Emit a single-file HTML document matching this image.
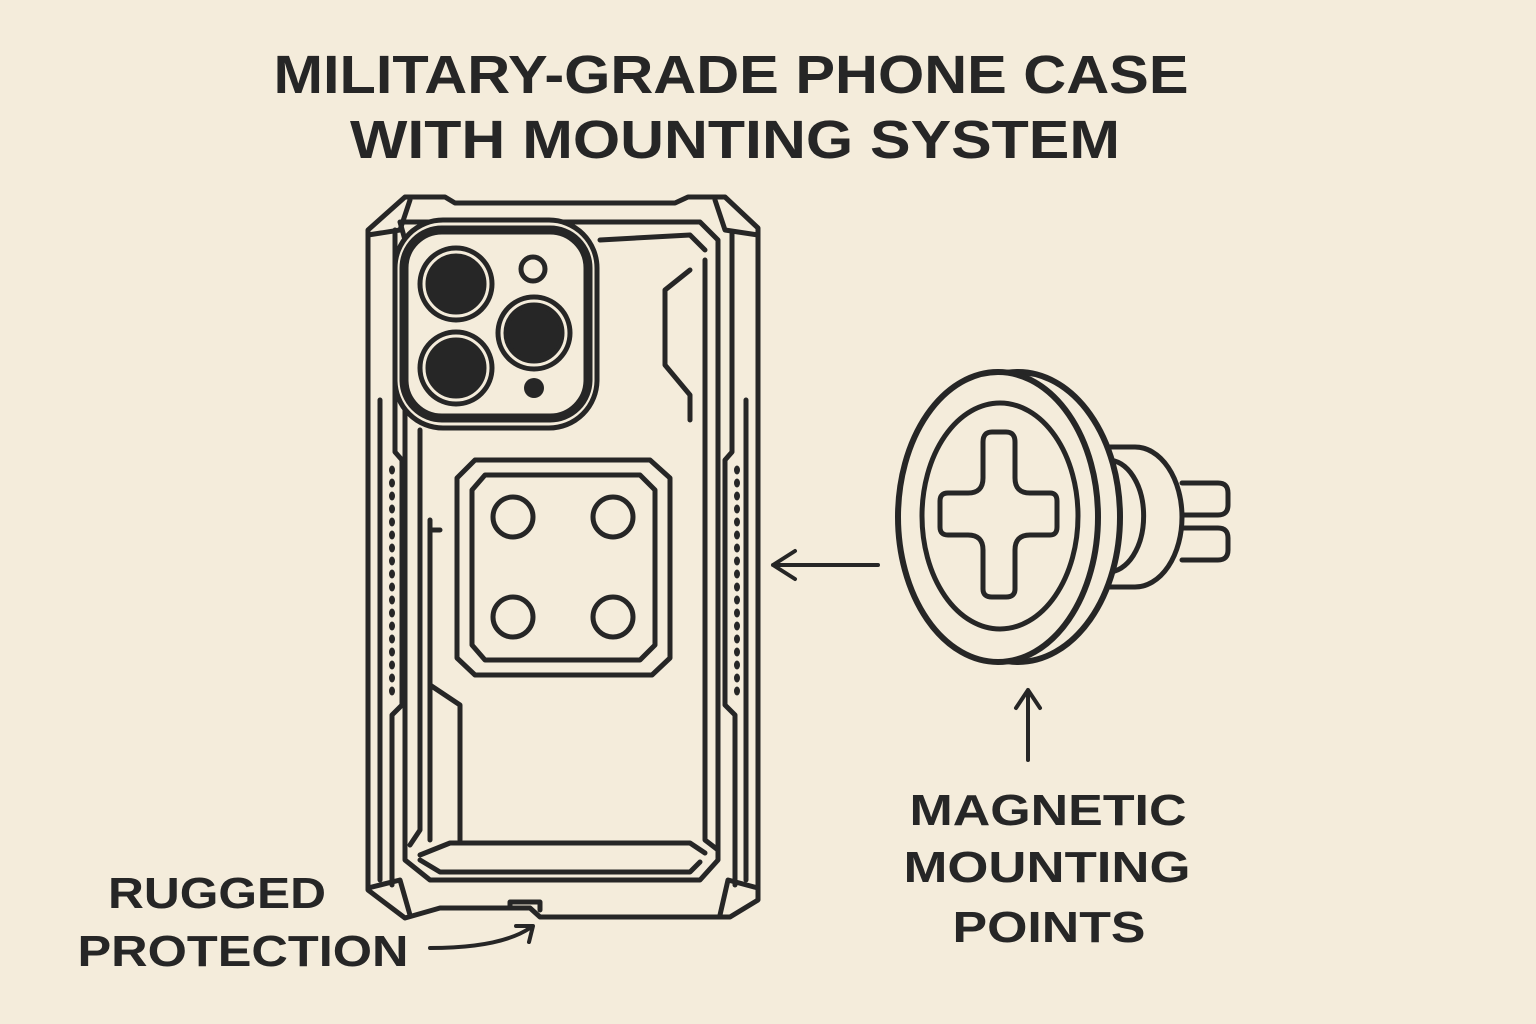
<!DOCTYPE html>
<html><head><meta charset="utf-8"><style>
html,body{margin:0;padding:0;background:#f4ecdb;}
svg{display:block}
text{font-family:"Liberation Sans",sans-serif;font-weight:bold;fill:#262626}
</style></head><body>
<svg width="1536" height="1024" viewBox="0 0 1536 1024" xmlns="http://www.w3.org/2000/svg">
<rect width="1536" height="1024" fill="#f4ecdb"/>
<text x="731" y="93" font-size="54" text-anchor="middle" textLength="915" lengthAdjust="spacingAndGlyphs">MILITARY-GRADE PHONE CASE</text>
<text x="735" y="158" font-size="54" text-anchor="middle" textLength="770" lengthAdjust="spacingAndGlyphs">WITH MOUNTING SYSTEM</text>

<g fill="none" stroke="#262626" stroke-width="5" stroke-linejoin="round" stroke-linecap="round">
<!-- outer shell -->
<path d="M405 197 L445 197 L455 203 L675 203 L688 197 L725 197 L758 228 L758 900 L730 917 L540 917 L530 908 L440 908 L405 918 L368 890 L368 230 Z"/>
<path d="M368 235 L400 230 L410 200 M758 235 L725 230 L715 200 M368 888 L400 880 L410 915 M758 888 L728 880 L720 915"/>
<path d="M380 400 L380 880 M746 400 L746 880"/>
<path d="M395 230 L395 452 L402 460 L402 705 L392 715 L392 885"/>
<path d="M732 232 L732 452 L725 460 L725 705 L735 715 L735 885"/>
<!-- inner frame -->
<path d="M400 222 L700 222 L718 240 L718 860 L700 880 L430 880 L405 860 L405 240 Z"/>
<path d="M600 240 L690 235 L705 250 M420 430 L420 830 L410 845 M705 260 L705 840 L718 850"/>
<path d="M420 860 L440 872 L690 872 L700 862"/>
<path d="M430 520 L430 840 M430 530 L440 530"/>
<path d="M665 290 L665 365 L690 395 L690 420 M665 290 L690 270"/>
<path d="M430 685 L460 705 L460 840"/>
<path d="M420 855 L450 843 L690 843 L705 853"/>
<g fill="#262626" stroke="none">
<ellipse cx="392" cy="470" rx="3" ry="4.5"/><ellipse cx="392" cy="483" rx="3" ry="4.5"/><ellipse cx="392" cy="496" rx="3" ry="4.5"/><ellipse cx="392" cy="509" rx="3" ry="4.5"/><ellipse cx="392" cy="522" rx="3" ry="4.5"/><ellipse cx="392" cy="535" rx="3" ry="4.5"/><ellipse cx="392" cy="548" rx="3" ry="4.5"/><ellipse cx="392" cy="561" rx="3" ry="4.5"/><ellipse cx="392" cy="574" rx="3" ry="4.5"/><ellipse cx="392" cy="587" rx="3" ry="4.5"/><ellipse cx="392" cy="600" rx="3" ry="4.5"/><ellipse cx="392" cy="613" rx="3" ry="4.5"/><ellipse cx="392" cy="626" rx="3" ry="4.5"/><ellipse cx="392" cy="639" rx="3" ry="4.5"/><ellipse cx="392" cy="652" rx="3" ry="4.5"/><ellipse cx="392" cy="665" rx="3" ry="4.5"/><ellipse cx="392" cy="678" rx="3" ry="4.5"/><ellipse cx="392" cy="691" rx="3" ry="4.5"/>
<ellipse cx="737" cy="470" rx="3" ry="4.5"/><ellipse cx="737" cy="483" rx="3" ry="4.5"/><ellipse cx="737" cy="496" rx="3" ry="4.5"/><ellipse cx="737" cy="509" rx="3" ry="4.5"/><ellipse cx="737" cy="522" rx="3" ry="4.5"/><ellipse cx="737" cy="535" rx="3" ry="4.5"/><ellipse cx="737" cy="548" rx="3" ry="4.5"/><ellipse cx="737" cy="561" rx="3" ry="4.5"/><ellipse cx="737" cy="574" rx="3" ry="4.5"/><ellipse cx="737" cy="587" rx="3" ry="4.5"/><ellipse cx="737" cy="600" rx="3" ry="4.5"/><ellipse cx="737" cy="613" rx="3" ry="4.5"/><ellipse cx="737" cy="626" rx="3" ry="4.5"/><ellipse cx="737" cy="639" rx="3" ry="4.5"/><ellipse cx="737" cy="652" rx="3" ry="4.5"/><ellipse cx="737" cy="665" rx="3" ry="4.5"/><ellipse cx="737" cy="678" rx="3" ry="4.5"/><ellipse cx="737" cy="691" rx="3" ry="4.5"/>
</g>
<!-- camera -->
<rect x="395" y="220" width="202" height="208" rx="48" fill="#f4ecdb"/>
<rect x="404" y="230" width="184" height="188" rx="38" stroke-width="9"/>
<circle cx="456" cy="284" r="36"/><circle cx="456" cy="284" r="28" fill="#262626"/>
<circle cx="456" cy="368" r="36"/><circle cx="456" cy="368" r="28" fill="#262626"/>
<circle cx="534" cy="333" r="36"/><circle cx="534" cy="333" r="28" fill="#262626"/>
<circle cx="533" cy="269" r="12"/>
<circle cx="534" cy="388" r="10" fill="#262626" stroke="none"/>
<!-- mount plate -->
<path d="M475 460 L650 460 L670 478 L670 658 L652 675 L475 675 L457 658 L457 478 Z"/>
<path d="M485 475 L640 475 L655 490 L655 645 L640 660 L485 660 L472 645 L472 490 Z"/>
<circle cx="513" cy="517" r="20"/><circle cx="613" cy="517" r="20"/>
<circle cx="513" cy="617" r="20"/><circle cx="613" cy="617" r="20"/>
<path d="M510 908 L510 902 L540 902 L540 910"/>
<!-- magnet knob -->
<path d="M1105 447 L1135 447 A 47 70 0 0 1 1135 587 L1105 587"/>
<path d="M1108 460 A 35 55 0 0 1 1108 572"/>
<path d="M1182 483 L1218 483 Q1228 483 1228 493 L1228 505 Q1228 515 1218 515 L1182 515 M1182 528 L1218 528 Q1228 528 1228 538 L1228 550 Q1228 560 1218 560 L1182 560"/>
<!-- magnet disk -->
<ellipse cx="1018" cy="517" rx="102" ry="145" fill="#f4ecdb" stroke-width="6"/>
<ellipse cx="998" cy="517" rx="100" ry="145" fill="#f4ecdb" stroke-width="6"/>
<ellipse cx="1000" cy="516" rx="78" ry="113"/>
<path d="M992 432 L1006 432 Q1015 432 1015 442 L1015 478 Q1015 493 1030 493 L1050 493 Q1057 493 1057 501 L1057 527 Q1057 535 1050 535 L1030 535 Q1015 535 1015 550 L1015 589 Q1015 597 1006 597 L992 597 Q983 597 983 589 L983 550 Q983 535 968 535 L948 535 Q940 535 940 527 L940 501 Q940 493 948 493 L968 493 Q983 493 983 478 L983 442 Q983 432 992 432 Z"/>
<!-- arrows -->
<path d="M878 565 L773 565 M795 551 L773 565 L795 579" stroke-width="4"/>
<path d="M1028 760 L1028 690 M1016 708 L1028 690 L1040 708" stroke-width="4"/>
<path d="M430 948 Q500 948 530 928 M516 926 L533 926 L529 942" stroke-width="4"/>
</g>

<text x="217" y="908" font-size="44" text-anchor="middle" textLength="218" lengthAdjust="spacingAndGlyphs">RUGGED</text>
<text x="243" y="966" font-size="44" text-anchor="middle" textLength="331" lengthAdjust="spacingAndGlyphs">PROTECTION</text>
<text x="1048" y="825" font-size="44" text-anchor="middle" textLength="277" lengthAdjust="spacingAndGlyphs">MAGNETIC</text>
<text x="1047" y="882" font-size="44" text-anchor="middle" textLength="287" lengthAdjust="spacingAndGlyphs">MOUNTING</text>
<text x="1049" y="942" font-size="44" text-anchor="middle" textLength="193" lengthAdjust="spacingAndGlyphs">POINTS</text>
</svg>
</body></html>
